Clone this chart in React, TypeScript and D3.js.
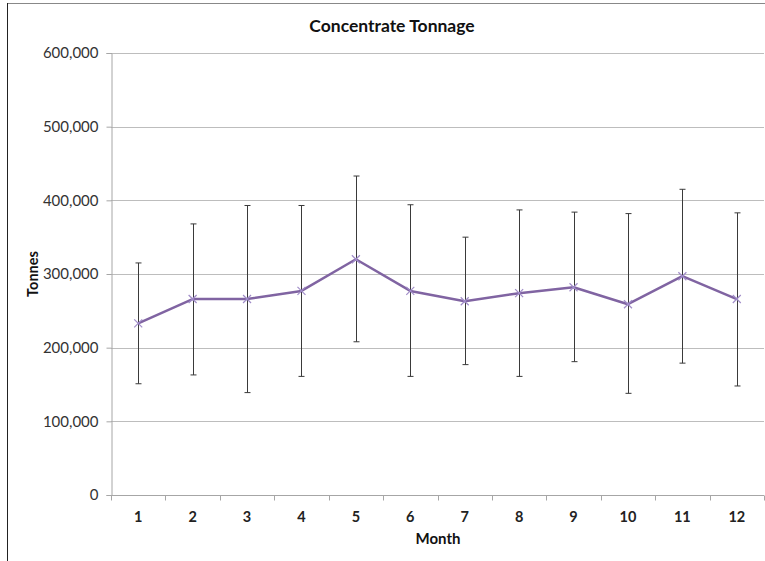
import React, { useRef, useEffect } from "react";
import * as d3 from "d3";

const months = ["1", "2", "3", "4", "5", "6", "7", "8", "9", "10", "11", "12"];
const tonnage = [233000, 266000, 266000, 277000, 320000, 277000, 263000, 274000, 282000, 259000, 297000, 266000];
const upper = [315000, 368000, 393000, 393000, 433000, 394000, 350000, 387000, 384000, 382000, 415000, 383000];
const lower = [151000, 163000, 139000, 161000, 208000, 161000, 177000, 161000, 181000, 138000, 179000, 148000];
const yTicks = [0, 100000, 200000, 300000, 400000, 500000, 600000];

const FONT = "Lato, 'Liberation Sans', Arial, sans-serif";

function App() {
  const ref = useRef<SVGSVGElement>(null);

  useEffect(() => {
    const svg = d3.select(ref.current);
    svg.selectAll("*").remove();

    const width = 765,
      height = 561;
    const left = 111,
      right = 764,
      top = 53,
      bottom = 495;

    // chart border
    svg
      .append("rect")
      .attr("x", 7.5)
      .attr("y", 3.5)
      .attr("width", 800)
      .attr("height", 600)
      .attr("fill", "white")
      .attr("stroke", "#888");
    svg
      .append("line")
      .attr("x1", 7.5)
      .attr("x2", 7.5)
      .attr("y1", 3)
      .attr("y2", height)
      .attr("stroke", "#222");

    const x = d3.scaleBand().domain(months).range([left, right]);
    const y = d3.scaleLinear().domain([0, 600000]).range([bottom, top]);

    // gridlines
    svg
      .append("g")
      .selectAll("line")
      .data(yTicks.filter(d => d > 0))
      .enter()
      .append("line")
      .attr("x1", left)
      .attr("x2", right)
      .attr("y1", d => Math.round(y(d)) + 0.5)
      .attr("y2", d => Math.round(y(d)) + 0.5)
      .attr("stroke", "#bdbdbd");

    // y axis
    const yAxis = svg
      .append("g")
      .attr("transform", `translate(${left + 0.5},0)`)
      .call(
        d3
          .axisLeft(y)
          .tickValues(yTicks)
          .tickSize(5)
          .tickPadding(8)
          .tickFormat(d => d3.format(",")(d as number))
      );
    yAxis.select(".domain").attr("stroke", "#a6a6a6");
    yAxis.selectAll(".tick line").attr("stroke", "#a6a6a6");
    yAxis
      .selectAll(".tick text")
      .attr("font-family", FONT)
      .attr("font-size", 15)
      .attr("fill", "#333");

    // x axis
    const xg = svg.append("g").attr("transform", `translate(0,${bottom + 0.5})`);
    xg.append("line").attr("x1", left).attr("x2", right).attr("stroke", "#a6a6a6");
    xg.selectAll(".tk")
      .data(months.concat(["end"]))
      .enter()
      .append("line")
      .attr("x1", (d, i) => Math.round(left + i * x.bandwidth()) + 0.5)
      .attr("x2", (d, i) => Math.round(left + i * x.bandwidth()) + 0.5)
      .attr("y1", 0)
      .attr("y2", 5)
      .attr("stroke", "#a6a6a6");
    xg.selectAll("text")
      .data(months)
      .enter()
      .append("text")
      .attr("x", d => (x(d) as number) + x.bandwidth() / 2)
      .attr("y", 26)
      .attr("text-anchor", "middle")
      .attr("font-family", FONT)
      .attr("font-size", 14.5)
      .attr("font-weight", "bold")
      .attr("fill", "#222")
      .text(d => d);

    const cx = (i: number) => (x(months[i]) as number) + x.bandwidth() / 2;

    // error bars
    const eb = svg.append("g").attr("stroke", "#3a3a3a").attr("stroke-width", 1);
    months.forEach((m, i) => {
      const px = Math.round(cx(i)) + 0.5;
      eb.append("line").attr("x1", px).attr("x2", px).attr("y1", y(upper[i])).attr("y2", y(lower[i]));
      eb.append("line").attr("x1", px - 3).attr("x2", px + 3).attr("y1", y(upper[i])).attr("y2", y(upper[i]));
      eb.append("line").attr("x1", px - 3).attr("x2", px + 3).attr("y1", y(lower[i])).attr("y2", y(lower[i]));
    });

    // series line
    const line = d3
      .line<number>()
      .x((d, i) => cx(i))
      .y(d => y(d));
    svg
      .append("path")
      .datum(tonnage)
      .attr("d", line)
      .attr("fill", "none")
      .attr("stroke", "#8064a2")
      .attr("stroke-width", 2.5)
      .attr("stroke-linejoin", "round");

    // x markers
    const mk = svg.append("g").attr("stroke", "#a08cc8").attr("stroke-width", 1.2);
    tonnage.forEach((v, i) => {
      const px = cx(i),
        py = y(v),
        s = 4;
      mk.append("line").attr("x1", px - s).attr("x2", px + s).attr("y1", py - s).attr("y2", py + s);
      mk.append("line").attr("x1", px - s).attr("x2", px + s).attr("y1", py + s).attr("y2", py - s);
    });

    // titles
    svg
      .append("text")
      .attr("x", 392)
      .attr("y", 32)
      .attr("text-anchor", "middle")
      .attr("font-family", FONT)
      .attr("font-size", 17.5)
      .attr("font-weight", "bold")
      .attr("fill", "#111")
      .text("Concentrate Tonnage");
    svg
      .append("text")
      .attr("x", 438)
      .attr("y", 544)
      .attr("text-anchor", "middle")
      .attr("font-family", FONT)
      .attr("font-size", 15)
      .attr("font-weight", "bold")
      .attr("fill", "#111")
      .text("Month");
    svg
      .append("text")
      .attr("transform", `translate(38,274) rotate(-90)`)
      .attr("text-anchor", "middle")
      .attr("font-family", FONT)
      .attr("font-size", 14.5)
      .attr("font-weight", "bold")
      .attr("fill", "#111")
      .text("Tonnes");

    svg.attr("width", width).attr("height", height);
  }, []);

  return (
    <svg
      ref={ref}
      width={765}
      height={561}
      style={{ position: "absolute", left: 0, top: 0, background: "white" }}
    />
  );
}

export default App;
